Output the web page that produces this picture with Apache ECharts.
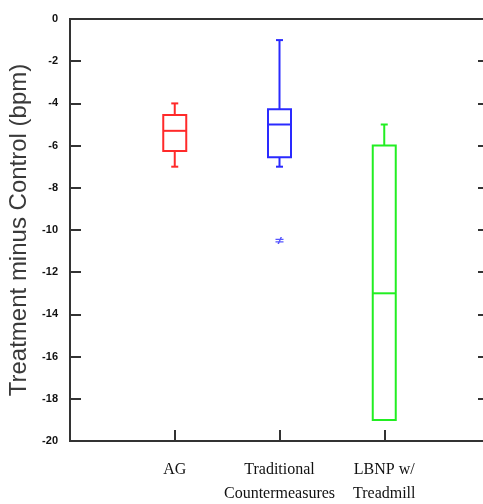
<!DOCTYPE html>
<html>
<head>
<meta charset="utf-8">
<script src="https://cdn.jsdelivr.net/npm/echarts@6/dist/echarts.min.js"></script>
<style>html,body{margin:0;padding:0;background:#fff}#c{width:483px;height:504px}</style>
</head>
<body>
<div id="c"></div>
<script>
const categories = ['', 'AG', 'Traditional\nCountermeasures', 'LBNP w/\nTreadmill', ''];
const boxCategoryIndex = [1, 2, 3];
const whiskerLow = [-7.0, -7.0, -19.0];
const quartile1 = [-6.25, -6.55, -19.0];
const medians = [-5.3, -5.0, -13.0];
const quartile3 = [-4.55, -4.28, -6.0];
const whiskerHigh = [-4.0, -1.0, -5.0];
const boxColors = ['#ff2a2a', '#2a2aff', '#22ee22'];
const outliers = [[2, -10.5]];
const yTicks = { min: -20, max: 0, interval: 2 };

const boxData = boxCategoryIndex.map((c, i) => [c, whiskerLow[i], quartile1[i], medians[i], quartile3[i], whiskerHigh[i], i]);

const chart = echarts.init(document.getElementById('c'));
chart.setOption({
  animation: false,
  grid: { left: 70, top: 19, width: 419, height: 422, containLabel: false, outerBoundsMode: 'none',
          show: true, borderColor: '#333', borderWidth: 2, backgroundColor: 'transparent' },
  xAxis: [{
    type: 'category', data: categories, boundaryGap: false, position: 'bottom',
    axisLine: { onZero: false, lineStyle: { color: '#333', width: 2 } },
    axisTick: { show: true, inside: true, length: 11, interval: 0, lineStyle: { color: '#333', width: 2 } },
    axisLabel: { interval: 0, margin: 17, color: '#111', fontFamily: 'Liberation Serif', fontSize: 16, lineHeight: 24 },
    splitLine: { show: false }
  }],
  yAxis: [{
    type: 'value', min: yTicks.min, max: yTicks.max, interval: yTicks.interval, position: 'left',
    name: 'Treatment minus Control (bpm)', nameLocation: 'middle', nameGap: 26,
    nameTextStyle: { fontFamily: 'Liberation Sans', fontSize: 24, color: '#3a3a3a' },
    axisLine: { show: true, onZero: false, lineStyle: { color: '#333', width: 2 } },
    axisTick: { show: true, inside: true, length: 11, lineStyle: { color: '#333', width: 2 } },
    axisLabel: { margin: 12, color: '#111', fontFamily: 'Liberation Sans', fontWeight: 'bold', fontSize: 11 },
    splitLine: { show: false }
  }, {
    type: 'value', min: yTicks.min, max: yTicks.max, interval: yTicks.interval, position: 'right',
    axisLine: { show: true, onZero: false, lineStyle: { color: '#333', width: 2 } },
    axisTick: { show: true, inside: true, length: 11, lineStyle: { color: '#333', width: 2 } },
    axisLabel: { show: false }, splitLine: { show: false }
  }],
  series: [{
    type: 'custom',
    xAxisIndex: 0, yAxisIndex: 0,
    data: boxData,
    encode: { x: 0, y: [1, 2, 3, 4, 5] },
    renderItem: function (params, api) {
      const c = api.value(0);
      const i = api.value(6);
      const pLow = api.coord([c, api.value(1)]);
      const pQ1 = api.coord([c, api.value(2)]);
      const pMed = api.coord([c, api.value(3)]);
      const pQ3 = api.coord([c, api.value(4)]);
      const pHigh = api.coord([c, api.value(5)]);
      const half = 11.5, cap = 3.5, x = pMed[0];
      const st = { stroke: boxColors[i], lineWidth: 2, fill: null };
      const ch = [
        { type: 'rect', shape: { x: x - half, y: pQ3[1], width: 2 * half, height: pQ1[1] - pQ3[1] }, style: st },
        { type: 'line', shape: { x1: x - half, y1: pMed[1], x2: x + half, y2: pMed[1] }, style: st }
      ];
      if (pHigh[1] < pQ3[1] - 0.5) {
        ch.push({ type: 'line', shape: { x1: x, y1: pHigh[1], x2: x, y2: pQ3[1] }, style: st });
        ch.push({ type: 'line', shape: { x1: x - cap, y1: pHigh[1], x2: x + cap, y2: pHigh[1] }, style: st });
      }
      if (pLow[1] > pQ1[1] + 0.5) {
        ch.push({ type: 'line', shape: { x1: x, y1: pQ1[1], x2: x, y2: pLow[1] }, style: st });
        ch.push({ type: 'line', shape: { x1: x - cap, y1: pLow[1], x2: x + cap, y2: pLow[1] }, style: st });
      }
      return { type: 'group', children: ch };
    }
  }, {
    type: 'scatter',
    xAxisIndex: 0, yAxisIndex: 0,
    data: outliers,
    symbol: 'path://M0,2H8V3.5H0Z M0,5H8V6.5H0Z M5,0L6.5,0L3.5,8.5L2,8.5Z',
    symbolSize: [8, 7],
    itemStyle: { color: '#2a2aff' }
  }]
});
</script>
</body>
</html>
